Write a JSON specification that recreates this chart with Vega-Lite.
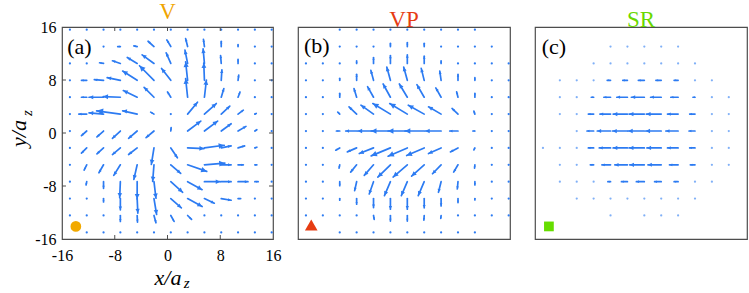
{
"$schema":"https://vega.github.io/schema/vega-lite/v6.json",
"padding":{"left":7,"top":0,"right":0,"bottom":0},
"spacing":25,
"bounds":"flush",
"config":{"font":"Liberation Serif","view":{"stroke":"#4d4d4d","strokeWidth":1.2},
"title":{"font":"Liberation Serif","fontSize":23,"fontWeight":"normal","baseline":"alphabetic","offset":-5,"frame":"group"},
"axis":{"labelFont":"Liberation Serif","labelFontSize":16,"labelColor":"#000","grid":false,"domain":false,"ticks":false,"labelFlush":false,"labelOverlap":false,"labelBound":false,"titleFont":"Liberation Serif","titleFontSize":22,"titleFontStyle":"italic","titleFontWeight":"normal","titleColor":"#000"}},
"datasets":{
"tk":[
{"x":-8,"y":-16,"x2":-8,"y2":-15.4},{"x":0,"y":-16,"x2":0,"y2":-15.4},{"x":8,"y":-16,"x2":8,"y2":-15.4},
{"x":-8,"y":16,"x2":-8,"y2":15.4},{"x":0,"y":16,"x2":0,"y2":15.4},{"x":8,"y":16,"x2":8,"y2":15.4},
{"x":-16,"y":-8,"x2":-15.4,"y2":-8},{"x":-16,"y":0,"x2":-15.4,"y2":0},{"x":-16,"y":8,"x2":-15.4,"y2":8},
{"x":16,"y":-8,"x2":15.4,"y2":-8},{"x":16,"y":0,"x2":15.4,"y2":0},{"x":16,"y":8,"x2":15.4,"y2":8}
],
"a":[
{"x":-7.15,"y":13.05,"x2":-7.55,"y2":13.05,"d":270,"m":0.4},
{"x":-4.6,"y":13.05,"x2":-5.1,"y2":13.15,"d":281,"m":0.51},
{"x":-2.05,"y":13.05,"x2":-2.95,"y2":13.85,"d":312,"m":1.2},
{"x":0.5,"y":13.05,"x2":-0.1,"y2":14.05,"d":329,"m":1.17},
{"x":3.05,"y":13.05,"x2":2.75,"y2":14.25,"d":346,"m":1.24},
{"x":5.6,"y":13.05,"x2":5.45,"y2":14.15,"d":352,"m":1.11},
{"x":8.15,"y":13.05,"x2":8.15,"y2":13.85,"d":0,"m":0.8},
{"x":10.7,"y":13.05,"x2":10.7,"y2":13.35,"d":0,"m":0.3},
{"x":-9.7,"y":10.5,"x2":-10.3,"y2":10.6,"d":280,"m":0.61},
{"x":-7.15,"y":10.5,"x2":-8.35,"y2":10.9,"d":288,"m":1.26},
{"x":-4.6,"y":10.5,"x2":-6.1,"y2":11.4,"d":301,"m":1.75},
{"x":-2.05,"y":10.5,"x2":-3.85,"y2":11.8,"d":306,"m":2.22},
{"x":0.5,"y":10.5,"x2":-0.2,"y2":12.1,"d":336,"m":1.75},
{"x":3.05,"y":10.5,"x2":2.65,"y2":12.5,"d":349,"m":2.04},
{"x":5.6,"y":10.5,"x2":5.4,"y2":12.7,"d":355,"m":2.21},
{"x":8.15,"y":10.5,"x2":8.05,"y2":11.7,"d":355,"m":1.2},
{"x":10.7,"y":10.5,"x2":10.7,"y2":11.1,"d":0,"m":0.6},
{"x":-12.25,"y":7.95,"x2":-13.05,"y2":7.95,"d":270,"m":0.8},
{"x":-9.7,"y":7.95,"x2":-11.1,"y2":8.05,"d":274,"m":1.4},
{"x":-7.15,"y":7.95,"x2":-9.15,"y2":8.35,"d":281,"m":2.04},
{"x":-4.6,"y":7.95,"x2":-6.8,"y2":9.35,"d":302,"m":2.61},
{"x":-2.05,"y":7.95,"x2":-4.25,"y2":10.15,"d":315,"m":3.11},
{"x":0.5,"y":7.95,"x2":-0.9,"y2":9.75,"d":322,"m":2.28},
{"x":3.05,"y":7.95,"x2":2.75,"y2":10.75,"d":354,"m":2.82},
{"x":5.6,"y":7.95,"x2":5.5,"y2":10.55,"d":358,"m":2.6},
{"x":8.15,"y":7.95,"x2":8.25,"y2":9.55,"d":4,"m":1.6},
{"x":10.7,"y":7.95,"x2":10.8,"y2":8.75,"d":7,"m":0.81},
{"x":-12.25,"y":5.4,"x2":-13.05,"y2":5.4,"d":270,"m":0.8},
{"x":-9.7,"y":5.4,"x2":-11.9,"y2":5.4,"d":270,"m":2.2},
{"x":-7.15,"y":5.4,"x2":-9.75,"y2":5.5,"d":272,"m":2.6},
{"x":-4.6,"y":5.4,"x2":-6.7,"y2":6.4,"d":295,"m":2.33},
{"x":-2.05,"y":5.4,"x2":-3.55,"y2":6.9,"d":315,"m":2.12},
{"x":0.5,"y":5.4,"x2":0.0,"y2":6.2,"d":328,"m":0.94},
{"x":3.05,"y":5.4,"x2":2.75,"y2":8.2,"d":354,"m":2.82},
{"x":5.6,"y":5.4,"x2":5.9,"y2":8.0,"d":7,"m":2.62},
{"x":8.15,"y":5.4,"x2":8.55,"y2":6.7,"d":17,"m":1.36},
{"x":10.7,"y":5.4,"x2":11.0,"y2":6.2,"d":21,"m":0.85},
{"x":-12.25,"y":2.85,"x2":-13.45,"y2":2.85,"d":270,"m":1.2},
{"x":-9.7,"y":2.85,"x2":-11.9,"y2":3.05,"d":275,"m":2.21},
{"x":-7.15,"y":2.85,"x2":-10.75,"y2":3.35,"d":278,"m":3.63},
{"x":-4.6,"y":2.85,"x2":-6.8,"y2":3.35,"d":277,"m":2.26},
{"x":-2.05,"y":2.85,"x2":-2.55,"y2":3.15,"d":301,"m":0.58},
{"x":3.05,"y":2.85,"x2":4.55,"y2":4.65,"d":40,"m":2.34},
{"x":5.6,"y":2.85,"x2":7.4,"y2":4.45,"d":48,"m":2.41},
{"x":8.15,"y":2.85,"x2":9.45,"y2":4.05,"d":47,"m":1.77},
{"x":10.7,"y":2.85,"x2":11.5,"y2":3.45,"d":53,"m":1.0},
{"x":13.25,"y":2.85,"x2":13.45,"y2":2.95,"d":63,"m":0.22},
{"x":-12.25,"y":0.3,"x2":-13.05,"y2":-0.4,"d":229,"m":1.06},
{"x":-9.7,"y":0.3,"x2":-10.7,"y2":-0.6,"d":228,"m":1.35},
{"x":-7.15,"y":0.3,"x2":-8.35,"y2":-0.8,"d":227,"m":1.63},
{"x":-4.6,"y":0.3,"x2":-5.9,"y2":-0.8,"d":230,"m":1.7},
{"x":-2.05,"y":0.3,"x2":-3.25,"y2":-0.7,"d":230,"m":1.56},
{"x":0.5,"y":0.3,"x2":0.55,"y2":0.8,"d":6,"m":0.5},
{"x":3.05,"y":0.3,"x2":5.05,"y2":1.8,"d":53,"m":2.5},
{"x":5.6,"y":0.3,"x2":7.6,"y2":1.8,"d":53,"m":2.5},
{"x":8.15,"y":0.3,"x2":9.65,"y2":1.4,"d":54,"m":1.86},
{"x":10.7,"y":0.3,"x2":11.9,"y2":1.0,"d":60,"m":1.39},
{"x":13.25,"y":0.3,"x2":13.55,"y2":0.5,"d":56,"m":0.36},
{"x":-12.25,"y":-2.25,"x2":-13.05,"y2":-3.05,"d":225,"m":1.13},
{"x":-9.7,"y":-2.25,"x2":-10.7,"y2":-3.15,"d":228,"m":1.35},
{"x":-7.15,"y":-2.25,"x2":-8.35,"y2":-3.25,"d":230,"m":1.56},
{"x":-4.6,"y":-2.25,"x2":-5.9,"y2":-3.25,"d":232,"m":1.64},
{"x":-2.05,"y":-2.25,"x2":-2.45,"y2":-4.75,"d":189,"m":2.53},
{"x":0.5,"y":-2.25,"x2":1.5,"y2":-3.75,"d":146,"m":1.8},
{"x":3.05,"y":-2.25,"x2":5.55,"y2":-2.35,"d":92,"m":2.5},
{"x":5.6,"y":-2.25,"x2":8.6,"y2":-1.85,"d":82,"m":3.03},
{"x":8.15,"y":-2.25,"x2":9.65,"y2":-1.95,"d":79,"m":1.53},
{"x":10.7,"y":-2.25,"x2":11.7,"y2":-1.95,"d":73,"m":1.04},
{"x":13.25,"y":-2.25,"x2":13.55,"y2":-2.15,"d":72,"m":0.32},
{"x":-12.25,"y":-4.8,"x2":-12.65,"y2":-5.6,"d":207,"m":0.89},
{"x":-9.7,"y":-4.8,"x2":-10.4,"y2":-6.0,"d":210,"m":1.39},
{"x":-7.15,"y":-4.8,"x2":-8.15,"y2":-6.4,"d":212,"m":1.89},
{"x":-4.6,"y":-4.8,"x2":-5.1,"y2":-7.0,"d":193,"m":2.26},
{"x":-2.05,"y":-4.8,"x2":-2.25,"y2":-7.3,"d":185,"m":2.51},
{"x":0.5,"y":-4.8,"x2":2.0,"y2":-6.1,"d":131,"m":1.98},
{"x":3.05,"y":-4.8,"x2":5.95,"y2":-5.8,"d":109,"m":3.07},
{"x":5.6,"y":-4.8,"x2":8.7,"y2":-4.55,"d":85,"m":3.11},
{"x":8.15,"y":-4.8,"x2":9.65,"y2":-4.8,"d":90,"m":1.5},
{"x":10.7,"y":-4.8,"x2":11.5,"y2":-4.8,"d":90,"m":0.8},
{"x":13.25,"y":-4.8,"x2":13.55,"y2":-4.8,"d":90,"m":0.3},
{"x":-12.25,"y":-7.35,"x2":-12.35,"y2":-7.85,"d":191,"m":0.51},
{"x":-9.7,"y":-7.35,"x2":-9.7,"y2":-8.35,"d":180,"m":1.0},
{"x":-7.15,"y":-7.35,"x2":-7.25,"y2":-9.75,"d":182,"m":2.4},
{"x":-4.6,"y":-7.35,"x2":-4.6,"y2":-9.95,"d":180,"m":2.6},
{"x":-2.05,"y":-7.35,"x2":-1.75,"y2":-9.85,"d":173,"m":2.52},
{"x":0.5,"y":-7.35,"x2":2.3,"y2":-8.95,"d":132,"m":2.41},
{"x":3.05,"y":-7.35,"x2":5.25,"y2":-8.55,"d":119,"m":2.51},
{"x":5.6,"y":-7.35,"x2":8.0,"y2":-7.35,"d":90,"m":2.4},
{"x":8.15,"y":-7.35,"x2":9.65,"y2":-7.35,"d":90,"m":1.5},
{"x":10.7,"y":-7.35,"x2":12.2,"y2":-7.35,"d":90,"m":1.5},
{"x":13.25,"y":-7.35,"x2":13.75,"y2":-7.35,"d":90,"m":0.5},
{"x":-9.7,"y":-9.9,"x2":-9.7,"y2":-10.4,"d":180,"m":0.5},
{"x":-7.15,"y":-9.9,"x2":-7.15,"y2":-11.6,"d":180,"m":1.7},
{"x":-4.6,"y":-9.9,"x2":-4.5,"y2":-12.1,"d":177,"m":2.2},
{"x":-2.05,"y":-9.9,"x2":-1.65,"y2":-12.3,"d":171,"m":2.43},
{"x":0.5,"y":-9.9,"x2":2.1,"y2":-11.3,"d":131,"m":2.13},
{"x":3.05,"y":-9.9,"x2":5.25,"y2":-11.1,"d":119,"m":2.51},
{"x":5.6,"y":-9.9,"x2":7.1,"y2":-10.6,"d":115,"m":1.66},
{"x":8.15,"y":-9.9,"x2":9.65,"y2":-10.15,"d":99,"m":1.52},
{"x":10.7,"y":-9.9,"x2":11.1,"y2":-9.9,"d":90,"m":0.4},
{"x":-7.15,"y":-12.45,"x2":-7.15,"y2":-13.35,"d":180,"m":0.9},
{"x":-4.6,"y":-12.45,"x2":-4.55,"y2":-13.45,"d":177,"m":1.0},
{"x":-2.05,"y":-12.45,"x2":-1.75,"y2":-13.55,"d":165,"m":1.14},
{"x":0.5,"y":-12.45,"x2":1.0,"y2":-13.35,"d":151,"m":1.03},
{"x":3.05,"y":-12.45,"x2":3.65,"y2":-13.05,"d":135,"m":0.85}
],
"ad":[
{"x":-14.8,"y":15.6},{"x":-12.25,"y":15.6},{"x":-9.7,"y":15.6},{"x":-7.15,"y":15.6},{"x":-4.6,"y":15.6},{"x":-2.05,"y":15.6},{"x":0.5,"y":15.6},{"x":3.05,"y":15.6},{"x":5.6,"y":15.6},{"x":8.15,"y":15.6},{"x":10.7,"y":15.6},{"x":13.25,"y":15.6},{"x":15.8,"y":15.6},
{"x":-9.7,"y":13.05},{"x":13.25,"y":13.05},{"x":15.8,"y":13.05},
{"x":-14.8,"y":10.5},{"x":-12.25,"y":10.5},{"x":13.25,"y":10.5},{"x":15.8,"y":10.5},
{"x":-14.8,"y":7.95},{"x":13.25,"y":7.95},{"x":15.8,"y":7.95},
{"x":-14.8,"y":5.4},{"x":13.25,"y":5.4},{"x":15.8,"y":5.4},
{"x":-14.8,"y":2.85},{"x":0.5,"y":2.85},{"x":15.8,"y":2.85},
{"x":-14.8,"y":0.3},{"x":15.8,"y":0.3},
{"x":-14.8,"y":-2.25},{"x":15.8,"y":-2.25},
{"x":-14.8,"y":-4.8},{"x":15.8,"y":-4.8},
{"x":-14.8,"y":-7.35},{"x":15.8,"y":-7.35},
{"x":-14.8,"y":-9.9},{"x":-12.25,"y":-9.9},{"x":13.25,"y":-9.9},{"x":15.8,"y":-9.9},
{"x":-14.8,"y":-12.45},{"x":-12.25,"y":-12.45},{"x":-9.7,"y":-12.45},{"x":5.6,"y":-12.45},{"x":8.15,"y":-12.45},{"x":10.7,"y":-12.45},{"x":13.25,"y":-12.45},{"x":15.8,"y":-12.45},
{"x":-12.25,"y":-15},{"x":-9.7,"y":-15},{"x":-7.15,"y":-15},{"x":-4.6,"y":-15},{"x":-2.05,"y":-15},{"x":0.5,"y":-15},{"x":3.05,"y":-15},{"x":5.6,"y":-15},{"x":8.15,"y":-15},{"x":10.7,"y":-15},{"x":13.25,"y":-15},{"x":15.8,"y":-15}
],
"b":[
{"x":-2.05,"y":13.05,"x2":-2.05,"y2":13.55,"d":0,"m":0.5},
{"x":0.5,"y":13.05,"x2":0.5,"y2":13.65,"d":0,"m":0.6},
{"x":3.05,"y":13.05,"x2":3.05,"y2":13.55,"d":0,"m":0.5},
{"x":-7.15,"y":10.5,"x2":-7.15,"y2":10.9,"d":0,"m":0.4},
{"x":-4.6,"y":10.5,"x2":-4.6,"y2":11.4,"d":0,"m":0.9},
{"x":-2.05,"y":10.5,"x2":-2.05,"y2":11.7,"d":0,"m":1.2},
{"x":0.5,"y":10.5,"x2":0.5,"y2":11.8,"d":0,"m":1.3},
{"x":3.05,"y":10.5,"x2":3.05,"y2":11.6,"d":0,"m":1.1},
{"x":5.6,"y":10.5,"x2":5.6,"y2":10.9,"d":0,"m":0.4},
{"x":-9.7,"y":7.95,"x2":-9.7,"y2":8.25,"d":0,"m":0.3},
{"x":-7.15,"y":7.95,"x2":-7.15,"y2":8.85,"d":0,"m":0.9},
{"x":-4.6,"y":7.95,"x2":-5.0,"y2":9.45,"d":345,"m":1.55},
{"x":-2.05,"y":7.95,"x2":-2.6,"y2":9.95,"d":345,"m":2.07},
{"x":0.5,"y":7.95,"x2":-0.05,"y2":9.95,"d":345,"m":2.07},
{"x":3.05,"y":7.95,"x2":2.6,"y2":9.75,"d":346,"m":1.86},
{"x":5.6,"y":7.95,"x2":5.4,"y2":9.35,"d":352,"m":1.41},
{"x":8.15,"y":7.95,"x2":8.15,"y2":8.85,"d":0,"m":0.9},
{"x":10.7,"y":7.95,"x2":10.7,"y2":8.35,"d":0,"m":0.4},
{"x":-9.7,"y":5.4,"x2":-9.7,"y2":6.0,"d":0,"m":0.6},
{"x":-7.15,"y":5.4,"x2":-7.55,"y2":6.7,"d":343,"m":1.36},
{"x":-4.6,"y":5.4,"x2":-5.5,"y2":7.0,"d":331,"m":1.84},
{"x":-2.05,"y":5.4,"x2":-3.15,"y2":7.4,"d":331,"m":2.28},
{"x":0.5,"y":5.4,"x2":-0.7,"y2":7.4,"d":329,"m":2.33},
{"x":3.05,"y":5.4,"x2":1.95,"y2":7.3,"d":330,"m":2.2},
{"x":5.6,"y":5.4,"x2":4.8,"y2":6.8,"d":330,"m":1.61},
{"x":8.15,"y":5.4,"x2":7.95,"y2":6.2,"d":346,"m":0.82},
{"x":10.7,"y":5.4,"x2":10.7,"y2":6.0,"d":0,"m":0.6},
{"x":-9.7,"y":2.85,"x2":-10.0,"y2":3.15,"d":315,"m":0.42},
{"x":-7.15,"y":2.85,"x2":-8.3,"y2":3.95,"d":314,"m":1.59},
{"x":-4.6,"y":2.85,"x2":-6.5,"y2":4.2,"d":305,"m":2.33},
{"x":-2.05,"y":2.85,"x2":-4.7,"y2":4.45,"d":301,"m":3.1},
{"x":0.5,"y":2.85,"x2":-2.15,"y2":4.45,"d":301,"m":3.1},
{"x":3.05,"y":2.85,"x2":0.65,"y2":4.2,"d":299,"m":2.75},
{"x":5.6,"y":2.85,"x2":3.7,"y2":3.95,"d":300,"m":2.2},
{"x":8.15,"y":2.85,"x2":7.25,"y2":3.7,"d":313,"m":1.24},
{"x":10.7,"y":2.85,"x2":10.55,"y2":3.3,"d":342,"m":0.47},
{"x":-9.7,"y":0.3,"x2":-10.2,"y2":0.3,"d":270,"m":0.5},
{"x":-7.15,"y":0.3,"x2":-8.8,"y2":0.3,"d":270,"m":1.65},
{"x":-4.6,"y":0.3,"x2":-7.0,"y2":0.3,"d":270,"m":2.4},
{"x":-2.05,"y":0.3,"x2":-4.95,"y2":0.3,"d":270,"m":2.9},
{"x":0.5,"y":0.3,"x2":-2.4,"y2":0.3,"d":270,"m":2.9},
{"x":3.05,"y":0.3,"x2":0.15,"y2":0.3,"d":270,"m":2.9},
{"x":5.6,"y":0.3,"x2":3.2,"y2":0.3,"d":270,"m":2.4},
{"x":8.15,"y":0.3,"x2":6.9,"y2":0.3,"d":270,"m":1.25},
{"x":10.7,"y":0.3,"x2":10.4,"y2":0.3,"d":270,"m":0.3},
{"x":-9.7,"y":-2.25,"x2":-10.3,"y2":-2.6,"d":240,"m":0.69},
{"x":-7.15,"y":-2.25,"x2":-8.55,"y2":-2.85,"d":247,"m":1.52},
{"x":-4.6,"y":-2.25,"x2":-6.75,"y2":-3.1,"d":248,"m":2.31},
{"x":-2.05,"y":-2.25,"x2":-4.95,"y2":-3.45,"d":247,"m":3.14},
{"x":0.5,"y":-2.25,"x2":-2.4,"y2":-3.5,"d":247,"m":3.16},
{"x":3.05,"y":-2.25,"x2":0.4,"y2":-3.4,"d":247,"m":2.89},
{"x":5.6,"y":-2.25,"x2":3.7,"y2":-3.1,"d":246,"m":2.08},
{"x":8.15,"y":-2.25,"x2":7.0,"y2":-2.85,"d":242,"m":1.3},
{"x":10.7,"y":-2.25,"x2":10.55,"y2":-2.55,"d":207,"m":0.34},
{"x":-9.7,"y":-4.8,"x2":-9.8,"y2":-5.3,"d":191,"m":0.51},
{"x":-7.15,"y":-4.8,"x2":-8.05,"y2":-5.9,"d":219,"m":1.42},
{"x":-4.6,"y":-4.8,"x2":-6.0,"y2":-6.4,"d":221,"m":2.13},
{"x":-2.05,"y":-4.8,"x2":-3.95,"y2":-6.65,"d":226,"m":2.65},
{"x":0.5,"y":-4.8,"x2":-1.65,"y2":-6.65,"d":229,"m":2.84},
{"x":3.05,"y":-4.8,"x2":1.15,"y2":-6.5,"d":228,"m":2.55},
{"x":5.6,"y":-4.8,"x2":4.3,"y2":-6.15,"d":224,"m":1.87},
{"x":8.15,"y":-4.8,"x2":7.5,"y2":-5.9,"d":211,"m":1.28},
{"x":10.7,"y":-4.8,"x2":10.65,"y2":-5.3,"d":186,"m":0.5},
{"x":-9.7,"y":-7.35,"x2":-9.7,"y2":-7.95,"d":180,"m":0.6},
{"x":-7.15,"y":-7.35,"x2":-7.45,"y2":-8.7,"d":192,"m":1.38},
{"x":-4.6,"y":-7.35,"x2":-5.25,"y2":-9.2,"d":199,"m":1.96},
{"x":-2.05,"y":-7.35,"x2":-2.95,"y2":-9.45,"d":203,"m":2.28},
{"x":0.5,"y":-7.35,"x2":-0.4,"y2":-9.45,"d":203,"m":2.28},
{"x":3.05,"y":-7.35,"x2":2.15,"y2":-9.45,"d":203,"m":2.28},
{"x":5.6,"y":-7.35,"x2":5.2,"y2":-8.95,"d":194,"m":1.65},
{"x":8.15,"y":-7.35,"x2":8.05,"y2":-8.45,"d":185,"m":1.1},
{"x":10.7,"y":-7.35,"x2":10.7,"y2":-7.85,"d":180,"m":0.5},
{"x":-9.7,"y":-9.9,"x2":-9.7,"y2":-10.15,"d":180,"m":0.25},
{"x":-7.15,"y":-9.9,"x2":-7.15,"y2":-10.75,"d":180,"m":0.85},
{"x":-4.6,"y":-9.9,"x2":-4.6,"y2":-11.25,"d":180,"m":1.35},
{"x":-2.05,"y":-9.9,"x2":-2.05,"y2":-11.5,"d":180,"m":1.6},
{"x":0.5,"y":-9.9,"x2":0.5,"y2":-11.5,"d":180,"m":1.6},
{"x":3.05,"y":-9.9,"x2":3.05,"y2":-11.3,"d":180,"m":1.4},
{"x":5.6,"y":-9.9,"x2":5.6,"y2":-11.0,"d":180,"m":1.1},
{"x":8.15,"y":-9.9,"x2":8.15,"y2":-10.5,"d":180,"m":0.6},
{"x":10.7,"y":-9.9,"x2":10.7,"y2":-10.1,"d":180,"m":0.2},
{"x":-4.6,"y":-12.45,"x2":-4.5,"y2":-13.05,"d":171,"m":0.61},
{"x":-2.05,"y":-12.45,"x2":-2.05,"y2":-13.3,"d":180,"m":0.85},
{"x":0.5,"y":-12.45,"x2":0.5,"y2":-13.3,"d":180,"m":0.85},
{"x":3.05,"y":-12.45,"x2":3.0,"y2":-13.15,"d":184,"m":0.7},
{"x":5.6,"y":-12.45,"x2":5.55,"y2":-12.9,"d":186,"m":0.45}
],
"bd":[
{"x":-9.7,"y":15.6},{"x":-7.15,"y":15.6},{"x":-4.6,"y":15.6},{"x":-2.05,"y":15.6},{"x":0.5,"y":15.6},{"x":3.05,"y":15.6},{"x":5.6,"y":15.6},{"x":8.15,"y":15.6},{"x":10.7,"y":15.6},
{"x":-9.7,"y":13.05},{"x":-7.15,"y":13.05},{"x":-4.6,"y":13.05},{"x":5.6,"y":13.05},{"x":8.15,"y":13.05},{"x":10.7,"y":13.05},{"x":13.25,"y":13.05},
{"x":-14.8,"y":10.5},{"x":-12.25,"y":10.5},{"x":-9.7,"y":10.5},{"x":8.15,"y":10.5},{"x":10.7,"y":10.5},{"x":13.25,"y":10.5},{"x":15.8,"y":10.5},
{"x":-14.8,"y":7.95},{"x":-12.25,"y":7.95},{"x":13.25,"y":7.95},{"x":15.8,"y":7.95},
{"x":-14.8,"y":5.4},{"x":-12.25,"y":5.4},{"x":13.25,"y":5.4},{"x":15.8,"y":5.4},
{"x":-14.8,"y":2.85},{"x":-12.25,"y":2.85},{"x":13.25,"y":2.85},{"x":15.8,"y":2.85},
{"x":-14.8,"y":0.3},{"x":-12.25,"y":0.3},{"x":13.25,"y":0.3},{"x":15.8,"y":0.3},
{"x":-14.8,"y":-2.25},{"x":-12.25,"y":-2.25},{"x":13.25,"y":-2.25},{"x":15.8,"y":-2.25},
{"x":-14.8,"y":-4.8},{"x":-12.25,"y":-4.8},{"x":13.25,"y":-4.8},{"x":15.8,"y":-4.8},
{"x":-14.8,"y":-7.35},{"x":-12.25,"y":-7.35},{"x":13.25,"y":-7.35},{"x":15.8,"y":-7.35},
{"x":-14.8,"y":-9.9},{"x":-12.25,"y":-9.9},{"x":13.25,"y":-9.9},{"x":15.8,"y":-9.9},
{"x":-14.8,"y":-12.45},{"x":-12.25,"y":-12.45},{"x":-9.7,"y":-12.45},{"x":-7.15,"y":-12.45},{"x":8.15,"y":-12.45},{"x":10.7,"y":-12.45},{"x":13.25,"y":-12.45},{"x":15.8,"y":-12.45},
{"x":-9.7,"y":-15},{"x":-7.15,"y":-15},{"x":-4.6,"y":-15},{"x":-2.05,"y":-15},{"x":0.5,"y":-15},{"x":3.05,"y":-15},{"x":5.6,"y":-15},{"x":8.15,"y":-15},{"x":10.7,"y":-15}
],
"c":[
{"x":-4.6,"y":7.95,"x2":-5.1,"y2":7.95,"d":270,"m":0.5},
{"x":-2.05,"y":7.95,"x2":-2.75,"y2":7.95,"d":270,"m":0.7},
{"x":0.5,"y":7.95,"x2":-0.4,"y2":7.95,"d":270,"m":0.9},
{"x":3.05,"y":7.95,"x2":2.25,"y2":7.95,"d":270,"m":0.8},
{"x":5.6,"y":7.95,"x2":5.0,"y2":7.95,"d":270,"m":0.6},
{"x":-7.15,"y":5.4,"x2":-7.5,"y2":5.4,"d":270,"m":0.35},
{"x":-4.6,"y":5.4,"x2":-5.6,"y2":5.4,"d":270,"m":1.0},
{"x":-2.05,"y":5.4,"x2":-3.65,"y2":5.4,"d":270,"m":1.6},
{"x":0.5,"y":5.4,"x2":-1.45,"y2":5.4,"d":270,"m":1.95},
{"x":3.05,"y":5.4,"x2":1.45,"y2":5.4,"d":270,"m":1.6},
{"x":5.6,"y":5.4,"x2":4.5,"y2":5.4,"d":270,"m":1.1},
{"x":8.15,"y":5.4,"x2":7.85,"y2":5.4,"d":270,"m":0.3},
{"x":-7.15,"y":2.85,"x2":-7.95,"y2":2.85,"d":270,"m":0.8},
{"x":-4.6,"y":2.85,"x2":-6.2,"y2":2.85,"d":270,"m":1.6},
{"x":-2.05,"y":2.85,"x2":-4.2,"y2":2.85,"d":270,"m":2.15},
{"x":0.5,"y":2.85,"x2":-1.8,"y2":2.85,"d":270,"m":2.3},
{"x":3.05,"y":2.85,"x2":0.8,"y2":2.85,"d":270,"m":2.25},
{"x":5.6,"y":2.85,"x2":4.0,"y2":2.85,"d":270,"m":1.6},
{"x":8.15,"y":2.85,"x2":7.35,"y2":2.85,"d":270,"m":0.8},
{"x":-7.15,"y":0.3,"x2":-8.15,"y2":0.3,"d":270,"m":1.0},
{"x":-4.6,"y":0.3,"x2":-6.6,"y2":0.3,"d":270,"m":2.0},
{"x":-2.05,"y":0.3,"x2":-4.3,"y2":0.3,"d":270,"m":2.25},
{"x":0.5,"y":0.3,"x2":-1.95,"y2":0.3,"d":270,"m":2.45},
{"x":3.05,"y":0.3,"x2":0.7,"y2":0.3,"d":270,"m":2.35},
{"x":5.6,"y":0.3,"x2":3.75,"y2":0.3,"d":270,"m":1.85},
{"x":8.15,"y":0.3,"x2":7.25,"y2":0.3,"d":270,"m":0.9},
{"x":-7.15,"y":-2.25,"x2":-7.95,"y2":-2.25,"d":270,"m":0.8},
{"x":-4.6,"y":-2.25,"x2":-6.3,"y2":-2.25,"d":270,"m":1.7},
{"x":-2.05,"y":-2.25,"x2":-4.2,"y2":-2.25,"d":270,"m":2.15},
{"x":0.5,"y":-2.25,"x2":-1.8,"y2":-2.25,"d":270,"m":2.3},
{"x":3.05,"y":-2.25,"x2":0.9,"y2":-2.25,"d":270,"m":2.15},
{"x":5.6,"y":-2.25,"x2":4.0,"y2":-2.25,"d":270,"m":1.6},
{"x":8.15,"y":-2.25,"x2":7.35,"y2":-2.25,"d":270,"m":0.8},
{"x":-7.15,"y":-4.8,"x2":-7.65,"y2":-4.8,"d":270,"m":0.5},
{"x":-4.6,"y":-4.8,"x2":-5.9,"y2":-4.8,"d":270,"m":1.3},
{"x":-2.05,"y":-4.8,"x2":-3.95,"y2":-4.8,"d":270,"m":1.9},
{"x":0.5,"y":-4.8,"x2":-1.7,"y2":-4.8,"d":270,"m":2.2},
{"x":3.05,"y":-4.8,"x2":1.05,"y2":-4.8,"d":270,"m":2.0},
{"x":5.6,"y":-4.8,"x2":4.3,"y2":-4.8,"d":270,"m":1.3},
{"x":8.15,"y":-4.8,"x2":7.45,"y2":-4.8,"d":270,"m":0.7},
{"x":-4.6,"y":-7.35,"x2":-5.0,"y2":-7.35,"d":270,"m":0.4},
{"x":-2.05,"y":-7.35,"x2":-2.95,"y2":-7.35,"d":270,"m":0.9},
{"x":0.5,"y":-7.35,"x2":-0.7,"y2":-7.35,"d":270,"m":1.2},
{"x":3.05,"y":-7.35,"x2":2.05,"y2":-7.35,"d":270,"m":1.0},
{"x":5.6,"y":-7.35,"x2":5.0,"y2":-7.35,"d":270,"m":0.6}
],
"cd":[
{"x":-4.6,"y":13.05},{"x":-2.05,"y":13.05},{"x":0.5,"y":13.05},{"x":3.05,"y":13.05},{"x":5.6,"y":13.05},
{"x":-7.15,"y":10.5},{"x":-4.6,"y":10.5},{"x":-2.05,"y":10.5},{"x":0.5,"y":10.5},{"x":3.05,"y":10.5},{"x":5.6,"y":10.5},{"x":8.15,"y":10.5},
{"x":-12.25,"y":7.95},{"x":-9.7,"y":7.95},{"x":-7.15,"y":7.95},{"x":8.15,"y":7.95},{"x":10.7,"y":7.95},
{"x":-12.25,"y":5.4},{"x":-9.7,"y":5.4},{"x":10.7,"y":5.4},{"x":13.25,"y":5.4},
{"x":-12.25,"y":2.85},{"x":-9.7,"y":2.85},{"x":10.7,"y":2.85},{"x":13.25,"y":2.85},
{"x":-9.7,"y":0.3},{"x":10.7,"y":0.3},{"x":13.25,"y":0.3},
{"x":-14.8,"y":-2.25},{"x":-12.25,"y":-2.25},{"x":-9.7,"y":-2.25},{"x":10.7,"y":-2.25},{"x":13.25,"y":-2.25},
{"x":-12.25,"y":-4.8},{"x":-9.7,"y":-4.8},{"x":10.7,"y":-4.8},{"x":13.25,"y":-4.8},
{"x":-12.25,"y":-7.35},{"x":-9.7,"y":-7.35},{"x":-7.15,"y":-7.35},{"x":8.15,"y":-7.35},{"x":10.7,"y":-7.35},
{"x":-9.7,"y":-9.9},{"x":-7.15,"y":-9.9},{"x":-4.6,"y":-9.9},{"x":-2.05,"y":-9.9},{"x":0.5,"y":-9.9},{"x":3.05,"y":-9.9},{"x":5.6,"y":-9.9},{"x":8.15,"y":-9.9},
{"x":-4.6,"y":-12.45},{"x":0.5,"y":-12.45},{"x":3.05,"y":-12.45},{"x":5.6,"y":-12.45}
]
},
"hconcat":[
{"width":211,"height":212,"title":{"text":"V","color":"#F0A500"},
"layer":[
{"data":{"name":"ad"},"mark":{"type":"circle","size":5,"color":"#2C7BF2","opacity":1},
"encoding":{"x":{"field":"x","type":"quantitative","scale":{"domain":[-16,16],"nice":false,"zero":false},"axis":{"values":[-16,-8,0,8,16],"labelExpr":"'' + datum.value","title":"x/a","labelPadding":8,"titlePadding":4}},
"y":{"field":"y","type":"quantitative","scale":{"domain":[-16,16],"nice":false,"zero":false},"axis":{"values":[-16,-8,0,8,16],"labelExpr":"'' + datum.value","title":"y/a","labelPadding":6,"titlePadding":4}}}},
{"data":{"name":"tk"},"mark":{"type":"rule","color":"#4d4d4d","strokeWidth":1},
"encoding":{"x":{"field":"x","type":"quantitative"},"y":{"field":"y","type":"quantitative"},"x2":{"field":"x2"},"y2":{"field":"y2"}}},
{"data":{"name":"a"},"mark":{"type":"rule","color":"#2C7BF2","strokeWidth":1.7,"strokeCap":"round"},
"encoding":{"x":{"field":"x","type":"quantitative"},"y":{"field":"y","type":"quantitative"},"x2":{"field":"x2"},"y2":{"field":"y2"}}},
{"data":{"name":"a"},"mark":{"type":"point","shape":"M0,0L1,2L-1,2Z","filled":true,"color":"#2C7BF2","opacity":1,"strokeWidth":0},
"encoding":{"x":{"field":"x2","type":"quantitative"},"y":{"field":"y2","type":"quantitative"},"angle":{"field":"d","type":"quantitative","scale":null},"size":{"field":"m","type":"quantitative","scale":{"type":"pow","exponent":2,"domain":[0,3],"range":[3,30]},"legend":null}}},
{"data":{"values":[{"x":-13.9,"y":-14.1}]},"mark":{"type":"point","shape":"circle","filled":true,"size":115,"color":"#F2A900","opacity":1},
"encoding":{"x":{"field":"x","type":"quantitative"},"y":{"field":"y","type":"quantitative"}}},
{"data":{"values":[{"x":-15.2,"y":13.0,"t":"(a)"}]},"mark":{"type":"text","align":"left","baseline":"middle","fontSize":22,"font":"Liberation Serif","color":"#000"},
"encoding":{"x":{"field":"x","type":"quantitative"},"y":{"field":"y","type":"quantitative"},"text":{"field":"t"}}},
{"data":{"values":[{"x":2.9,"y":-23.4,"t":"z"}]},"mark":{"type":"text","align":"center","baseline":"alphabetic","fontSize":15,"fontStyle":"italic","font":"Liberation Serif","color":"#000"},
"encoding":{"x":{"field":"x","type":"quantitative"},"y":{"field":"y","type":"quantitative"},"text":{"field":"t"}}},
{"data":{"values":[{"x":-20.5,"y":3.0,"t":"z"}]},"mark":{"type":"text","align":"center","baseline":"alphabetic","angle":270,"fontSize":15,"fontStyle":"italic","font":"Liberation Serif","color":"#000"},
"encoding":{"x":{"field":"x","type":"quantitative"},"y":{"field":"y","type":"quantitative"},"text":{"field":"t"}}}
]},
{"width":212,"height":212,"title":{"text":"VP","color":"#E63C12"},
"layer":[
{"data":{"name":"bd"},"mark":{"type":"circle","size":5,"color":"#2C7BF2","opacity":1},
"encoding":{"x":{"field":"x","type":"quantitative","scale":{"domain":[-16,16],"nice":false,"zero":false},"axis":null},
"y":{"field":"y","type":"quantitative","scale":{"domain":[-16,16],"nice":false,"zero":false},"axis":null}}},
{"data":{"name":"b"},"mark":{"type":"rule","color":"#2C7BF2","strokeWidth":1.7,"strokeCap":"round"},
"encoding":{"x":{"field":"x","type":"quantitative","axis":null},"y":{"field":"y","type":"quantitative","axis":null},"x2":{"field":"x2"},"y2":{"field":"y2"}}},
{"data":{"name":"b"},"mark":{"type":"point","shape":"M0,0L1,2L-1,2Z","filled":true,"color":"#2C7BF2","opacity":1,"strokeWidth":0},
"encoding":{"x":{"field":"x2","type":"quantitative","axis":null},"y":{"field":"y2","type":"quantitative","axis":null},"angle":{"field":"d","type":"quantitative","scale":null},"size":{"field":"m","type":"quantitative","scale":{"type":"pow","exponent":2,"domain":[0,3],"range":[3,30]},"legend":null}}},
{"data":{"values":[{"x":-14.0,"y":-13.9}]},"mark":{"type":"point","shape":"triangle-up","filled":true,"size":160,"color":"#E63C12","opacity":1},
"encoding":{"x":{"field":"x","type":"quantitative"},"y":{"field":"y","type":"quantitative"}}},
{"data":{"values":[{"x":-15.1,"y":13.2,"t":"(b)"}]},"mark":{"type":"text","align":"left","baseline":"middle","fontSize":22,"font":"Liberation Serif","color":"#000"},
"encoding":{"x":{"field":"x","type":"quantitative"},"y":{"field":"y","type":"quantitative"},"text":{"field":"t"}}}
]},
{"width":212,"height":212,"title":{"text":"SR","color":"#6AD800"},
"layer":[
{"data":{"name":"cd"},"mark":{"type":"circle","size":5,"color":"#2C7BF2","opacity":0.6},
"encoding":{"x":{"field":"x","type":"quantitative","scale":{"domain":[-16,16],"nice":false,"zero":false},"axis":null},
"y":{"field":"y","type":"quantitative","scale":{"domain":[-16,16],"nice":false,"zero":false},"axis":null}}},
{"data":{"name":"c"},"mark":{"type":"rule","color":"#2C7BF2","strokeWidth":1.7,"strokeCap":"round"},
"encoding":{"x":{"field":"x","type":"quantitative","axis":null},"y":{"field":"y","type":"quantitative","axis":null},"x2":{"field":"x2"},"y2":{"field":"y2"}}},
{"data":{"name":"c"},"mark":{"type":"point","shape":"M0,0L1,2L-1,2Z","filled":true,"color":"#2C7BF2","opacity":1,"strokeWidth":0},
"encoding":{"x":{"field":"x2","type":"quantitative","axis":null},"y":{"field":"y2","type":"quantitative","axis":null},"angle":{"field":"d","type":"quantitative","scale":null},"size":{"field":"m","type":"quantitative","scale":{"type":"pow","exponent":2,"domain":[0,3],"range":[3,30]},"legend":null}}},
{"data":{"values":[{"x":-13.9,"y":-14.1}]},"mark":{"type":"point","shape":"square","filled":true,"size":95,"color":"#66DD00","opacity":1},
"encoding":{"x":{"field":"x","type":"quantitative"},"y":{"field":"y","type":"quantitative"}}},
{"data":{"values":[{"x":-15.0,"y":12.95,"t":"(c)"}]},"mark":{"type":"text","align":"left","baseline":"middle","fontSize":22,"font":"Liberation Serif","color":"#000"},
"encoding":{"x":{"field":"x","type":"quantitative"},"y":{"field":"y","type":"quantitative"},"text":{"field":"t"}}}
]}
]
}
